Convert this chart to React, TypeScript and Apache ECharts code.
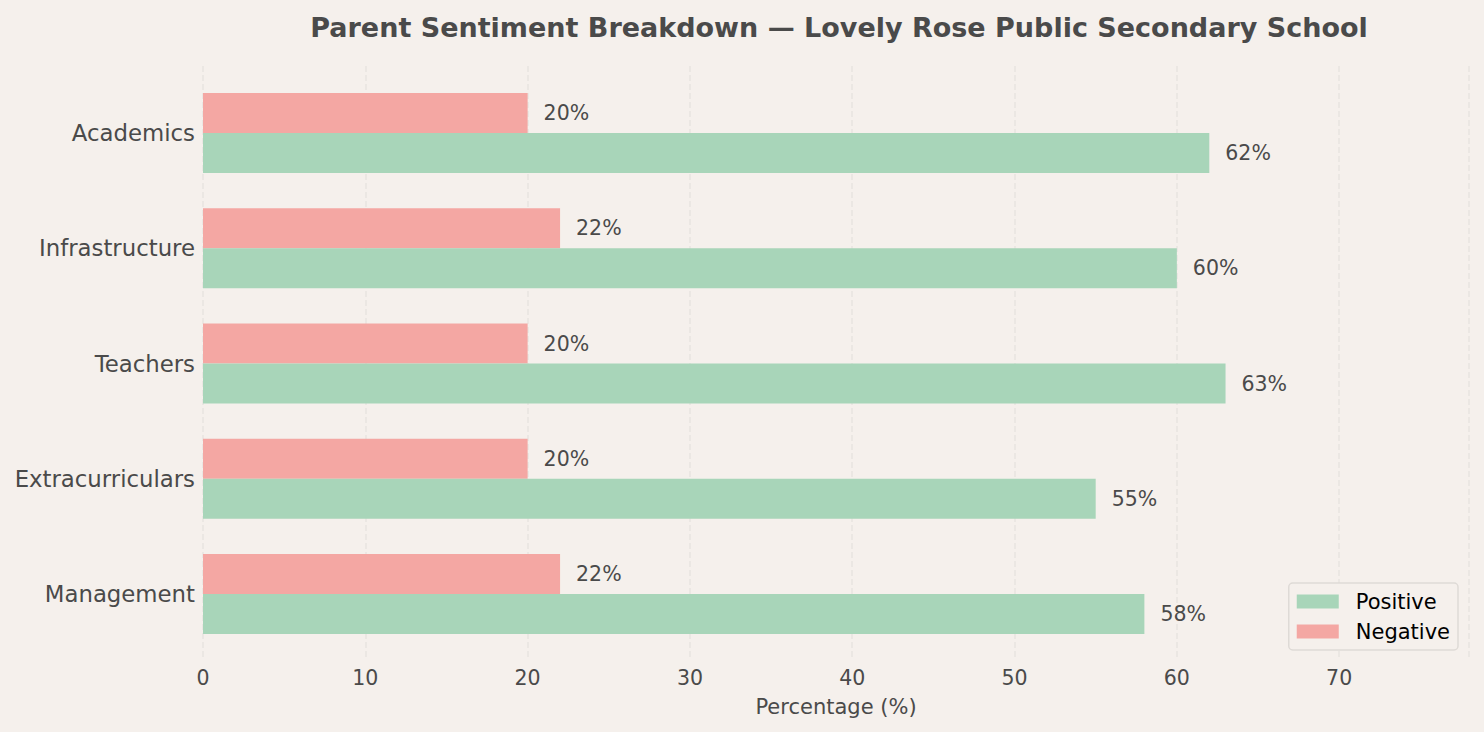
import React, { useEffect, useRef } from "react";
import * as echarts from "echarts";

const categories = ["Academics", "Infrastructure", "Teachers", "Extracurriculars", "Management"];
const positiveValues = [62, 60, 63, 55, 58];
const negativeValues = [20, 22, 20, 20, 22];
const xTicks = [0, 10, 20, 30, 40, 50, 60, 70];

const FONT = "DejaVu Sans";
const TEXT = "#4a4a4a";
const BG = "#f5f0ec";

export default function App() {
  const ref = useRef<HTMLDivElement>(null);
  useEffect(() => {
    if (!ref.current) return;
    const chart = echarts.init(ref.current, undefined, { renderer: "svg" });
    const labelStyle = {
      show: true,
      position: "right",
      distance: 16,
      formatter: "{c}%",
      fontFamily: FONT,
      fontSize: 20.5,
      color: TEXT,
    };
    const option: any = {
      animation: false,
      backgroundColor: BG,
      textStyle: { fontFamily: FONT },
      title: {
        text: "Parent Sentiment Breakdown — Lovely Rose Public Secondary School",
        left: 834,
        textAlign: "center",
        top: 9,
        textStyle: { fontFamily: FONT, fontSize: 27, fontWeight: "bold", color: TEXT },
      },
      legend: {
        data: ["Positive", "Negative"],
        orient: "vertical",
        right: 26,
        bottom: 82,
        icon: "rect",
        itemWidth: 42,
        itemHeight: 14,
        itemGap: 9,
        padding: [8, 8, 8, 8],
        borderColor: "#dedad6",
        borderWidth: 1.5,
        borderRadius: 4,
        backgroundColor: BG,
        textStyle: { fontFamily: FONT, fontSize: 21, color: "#000", padding: [0, 0, 0, 12] },
      },
      grid: [
        { left: 203, right: 15, top: 75.4, bottom: 80.4, containLabel: false },
        { left: 203, right: 15, top: 66, bottom: 72, containLabel: false },
      ],
      xAxis: [
        { gridIndex: 0, type: "value", min: 0, max: 78, interval: 10, show: false },
        {
          gridIndex: 1,
          type: "value",
          min: 0,
          max: 78,
          interval: 10,
          axisLine: { show: false },
          axisTick: { show: false },
          axisLabel: {
            margin: 7,
            fontFamily: FONT,
            fontSize: 20.5,
            color: TEXT,
            formatter: (v: number) => (xTicks.includes(v) ? String(v) : ""),
          },
          splitLine: { show: true, lineStyle: { type: [6, 3], color: "#e8e3df", width: 1.5 } },
          name: "Percentage (%)",
          nameLocation: "middle",
          nameGap: 36,
          nameTextStyle: { fontFamily: FONT, fontSize: 21, color: TEXT },
        },
      ],
      yAxis: [
        {
          gridIndex: 0,
          type: "category",
          inverse: true,
          data: categories,
          axisLine: { show: false },
          axisTick: { show: false },
          axisLabel: {
            margin: 8,
            fontFamily: FONT,
            fontSize: 22.8,
            color: TEXT,
            padding: [3, 0, 0, 0],
          },
          splitLine: { show: false },
        },
        { gridIndex: 1, type: "category", data: categories, show: false },
      ],
      series: [
        {
          name: "Negative",
          type: "bar",
          xAxisIndex: 0,
          yAxisIndex: 0,
          data: negativeValues,
          barWidth: 40,
          barGap: "0%",
          itemStyle: { color: "#f4a7a3" },
          label: labelStyle,
        },
        {
          name: "Positive",
          type: "bar",
          xAxisIndex: 0,
          yAxisIndex: 0,
          data: positiveValues,
          barWidth: 40,
          barGap: "0%",
          itemStyle: { color: "#a8d5b9" },
          label: labelStyle,
        },
      ],
    };
    chart.setOption(option);
    return () => chart.dispose();
  }, []);
  return (
    <div
      ref={ref}
      style={{ position: "absolute", left: 0, top: 0, width: 1484, height: 732 }}
    />
  );
}
